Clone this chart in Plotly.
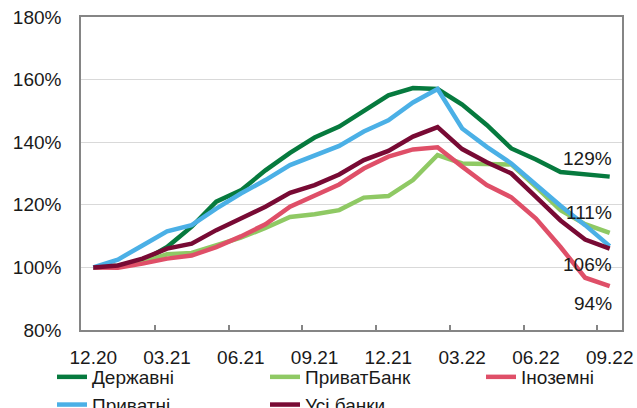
import plotly.graph_objects as go

# Monthly index, Dec 2020 = 100%
months = ["12.20", "01.21", "02.21", "03.21", "04.21", "05.21", "06.21", "07.21",
          "08.21", "09.21", "10.21", "11.21", "12.21", "01.22", "02.22", "03.22",
          "04.22", "05.22", "06.22", "07.22", "08.22", "09.22"]

derzhavni = [100, 100.5, 102.0, 106.5, 113.0, 121.0, 124.6, 131.0, 136.6, 141.5, 145.0,
             150.0, 155.0, 157.3, 157.0, 152.0, 145.5, 138.0, 134.5, 130.5, 129.7, 129]
pryvatbank = [100, 100.4, 101.7, 104.2, 104.6, 107.0, 109.5, 112.6, 116.1, 117.0, 118.3,
              122.3, 122.8, 127.9, 135.9, 133.2, 132.9, 132.9, 125.7, 118.3, 113.8, 111]
inozemni = [100, 99.9, 101.2, 102.8, 103.8, 106.5, 109.9, 113.8, 119.4, 123.0, 126.5,
            131.6, 135.4, 137.7, 138.4, 132.2, 126.3, 122.4, 115.6, 106.5, 96.7, 94]
pryvatni = [100, 102.5, 107.0, 111.5, 113.5, 118.8, 123.6, 127.9, 132.7, 135.6, 138.8,
            143.4, 147.0, 152.7, 157.0, 144.4, 138.5, 133.2, 126.5, 119.7, 113.5, 106.8]
usi_banky = [100, 100.6, 102.8, 106.0, 107.6, 111.9, 115.6, 119.4, 123.8, 126.3, 129.7,
             134.3, 137.2, 141.8, 144.8, 137.8, 133.6, 130.0, 122.5, 115.0, 108.9, 106]

# (name, values, colour, legend column)
series = [
    ("Державні", derzhavni, "#067a3e", "legend"),
    ("ПриватБанк", pryvatbank, "#8fc964", "legend2"),
    ("Іноземні", inozemni, "#df4f68", "legend3"),
    ("Приватні", pryvatni, "#4bb0e6", "legend"),
    ("Усі банки", usi_banky, "#780a34", "legend2"),
]

# end-point labels: (series values, vertical offset in px)
end_labels = [(derzhavni, 18), (pryvatbank, 20), (usi_banky, -16), (inozemni, -17)]

FONT = "Liberation Sans, Arial, sans-serif"
TXT = "#1a1a1a"
x_idx = list(range(len(months)))

fig = go.Figure()
for name, vals, color, leg in series:
    fig.add_trace(go.Scatter(
        x=x_idx, y=vals, name=name, mode="lines",
        line=dict(color=color, width=4.5), legend=leg,
    ))

for vals, shift in end_labels:
    fig.add_annotation(
        x=x_idx[-1], y=vals[-1], text=f"{vals[-1]:.0f}%",
        showarrow=False, xanchor="right", yanchor="middle",
        xshift=4, yshift=shift,
        font=dict(family=FONT, size=19, color=TXT),
    )


def legend_col(x_px):
    return dict(
        orientation="v", xref="container", yref="container",
        x=x_px / 637, y=1 - 358 / 408, xanchor="left", yanchor="top",
        font=dict(family=FONT, size=19, color=TXT),
        itemwidth=30, tracegroupgap=0, bgcolor="rgba(0,0,0,0)",
    )


tick_pos = x_idx[::3]
fig.update_layout(
    width=637, height=408,
    margin=dict(l=81, r=15, t=17, b=78, autoexpand=False),
    paper_bgcolor="white", plot_bgcolor="white",
    font=dict(family=FONT, size=19, color=TXT),
    showlegend=True,
    legend=legend_col(52),
    legend2=legend_col(265),
    legend3=legend_col(481),
    xaxis=dict(
        range=[-0.5, len(months) - 0.5],
        tickmode="array", tickvals=tick_pos, ticktext=[months[i] for i in tick_pos],
        ticks="", showgrid=False, zeroline=False,
        showline=True, mirror=True, linecolor="#858585", linewidth=1.5,
        ticklabelstandoff=9,
        minor=dict(tickmode="array", tickvals=[i + 2.5 for i in tick_pos[:-1]],
                   ticks="inside", ticklen=5, tickwidth=1.5, tickcolor="#858585",
                   showgrid=False),
    ),
    yaxis=dict(
        range=[80, 180], tickmode="array", tickvals=[80, 100, 120, 140, 160, 180],
        ticktext=["80%", "100%", "120%", "140%", "160%", "180%"],
        ticks="", showgrid=True, gridcolor="#d9d9d9", gridwidth=1, zeroline=False,
        showline=True, mirror=True, linecolor="#858585", linewidth=1.5,
        ticklabelstandoff=14,
    ),
)

fig.write_html("out.html")
